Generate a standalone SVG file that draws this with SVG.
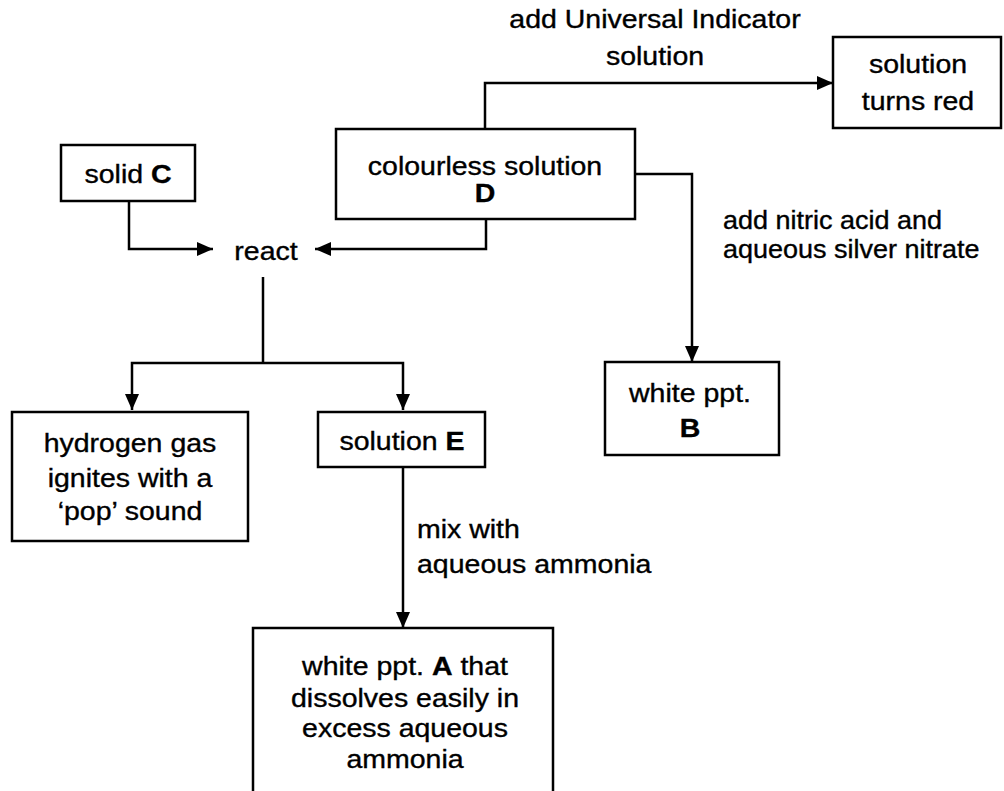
<svg xmlns="http://www.w3.org/2000/svg" width="1004" height="791" viewBox="0 0 1004 791">
<style>
.box{fill:#fff;stroke:#000;stroke-width:2.5}
.t{font-family:"Liberation Sans",Arial,sans-serif;font-size:25px;fill:#000;stroke:#000;stroke-width:0.35;text-anchor:middle}
.l{text-anchor:start}
.b{font-weight:bold}
.c{fill:none;stroke:#000;stroke-width:2.5;marker-end:url(#ah)}
.n{fill:none;stroke:#000;stroke-width:2.5}
</style>
<defs>
<marker id="ah" markerWidth="16" markerHeight="14" refX="16" refY="7" orient="auto" markerUnits="userSpaceOnUse"><path d="M0,0 L16,7 L0,14 z" fill="#000"/></marker>
</defs>
<rect width="1004" height="791" fill="#fff"/>
<g id="connectors">
<path class="c" d="M485,129 V83 H833"/>
<path class="c" d="M635,174 H692 V362"/>
<path class="c" d="M486,219 V249 H315"/>
<path class="c" d="M129,201 V249 H213"/>
<path class="n" d="M263,277 V363"/>
<path class="c" d="M263,363 H132 V410"/>
<path class="c" d="M263,363 H403 V410"/>
<path class="c" d="M403,467 V628"/>
<text class="t" transform="translate(655,0) scale(1.14,1)"><tspan x="0" y="28">add Universal Indicator</tspan><tspan x="0" y="65">solution</tspan></text>
<text class="t l" transform="translate(723,0) scale(1.08,1)"><tspan x="0" y="229">add nitric acid and</tspan><tspan x="0" y="258">aqueous silver nitrate</tspan></text>
<text class="t l" transform="translate(417,0) scale(1.14,1)"><tspan x="0" y="538">mix with</tspan><tspan x="0" y="573">aqueous ammonia</tspan></text>
</g>
<g id="solutionRed"><rect class="box" x="833" y="37" width="168" height="91"/><text class="t" transform="translate(918,0) scale(1.14,1)"><tspan x="0" y="73">solution</tspan><tspan x="0" y="110">turns red</tspan></text></g>
<g id="solutionD"><rect class="box" x="336" y="129" width="299" height="90"/><text class="t" transform="translate(485,0) scale(1.14,1)"><tspan x="0" y="175">colourless solution</tspan><tspan x="0" y="202" class="b">D</tspan></text></g>
<g id="solidC"><rect class="box" x="61" y="145" width="134" height="56"/><text class="t" transform="translate(128,0) scale(1.14,1)" y="183">solid <tspan class="b">C</tspan></text></g>
<g id="react"><text class="t" transform="translate(266,0) scale(1.14,1)" y="260">react</text></g>
<g id="pptB"><rect class="box" x="605" y="362" width="174" height="93"/><text class="t" transform="translate(690,0) scale(1.14,1)"><tspan x="0" y="402">white ppt.</tspan><tspan x="0" y="437" class="b">B</tspan></text></g>
<g id="hydrogen"><rect class="box" x="12" y="412" width="236" height="129"/><text class="t" transform="translate(130,0) scale(1.14,1)"><tspan x="0" y="452">hydrogen gas</tspan><tspan x="0" y="487">ignites with a</tspan><tspan x="0" y="520">‘pop’ sound</tspan></text></g>
<g id="solutionE"><rect class="box" x="318" y="412" width="167" height="55"/><text class="t" transform="translate(402,0) scale(1.14,1)" y="450">solution <tspan class="b">E</tspan></text></g>
<g id="pptA"><rect class="box" x="253" y="628" width="300" height="170"/><text class="t" transform="translate(405,0) scale(1.14,1)"><tspan x="0" y="675">white ppt. <tspan class="b">A</tspan> that</tspan><tspan x="0" y="707">dissolves easily in</tspan><tspan x="0" y="737">excess aqueous</tspan><tspan x="0" y="768">ammonia</tspan></text></g>
</svg>
